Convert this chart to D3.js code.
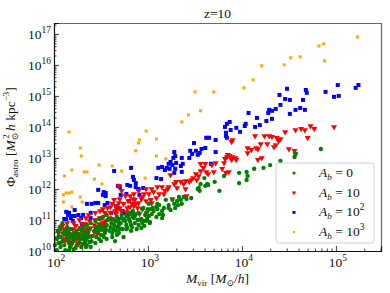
<!DOCTYPE html>
<html>
<head>
<meta charset="utf-8">
<script src="https://cdn.jsdelivr.net/npm/d3@7"></script>
<style>
  body { margin: 0; background: #fff; }
  svg { display: block; font-family: "Liberation Serif", "DejaVu Serif", serif; }
</style>
</head>
<body>
<div class="canvas"></div>
<script>
// values are [log10 Mvir, log10 Phi]
const ab0 = [
  [4.84,13.29],[4.57,13.13],[4.56,13.03],[4.41,12.90],[4.30,12.77],[4.23,12.68],[4.13,12.65],[4.05,12.55],
  [4.06,12.42],[4.05,12.29],[3.97,12.52],[3.97,12.19],[3.81,12.42],[3.71,12.23],[3.76,11.94],[3.64,12.13],
  [3.61,12.10],[3.56,12.16],[3.53,12.00],[3.55,11.94],[3.60,12.35],[3.46,11.71],[3.41,11.68],[3.38,11.74],
  [3.35,11.65],[3.33,11.74],[3.31,11.61],[3.28,11.52],[3.29,11.39],[3.32,11.48],[3.26,11.65],[3.22,11.48],
  [3.22,11.39],[3.19,11.65],[3.17,11.39],[3.15,11.29],[3.12,11.48],[3.09,11.42],[3.05,11.39],[3.03,11.35],
  [3.06,11.29],[3.10,11.35],[3.12,11.19],[3.16,11.16],[3.24,11.32],[3.04,11.19],[3.01,11.13],[3.36,11.52],
  [3.10,11.52],[3.01,11.52],[2.98,11.23],[2.94,11.35],[2.90,11.23],[2.87,11.19],[2.83,11.23],[2.80,11.19],
  [2.77,11.13],[2.72,11.06],[2.69,11.03],[2.74,11.00],[2.85,11.06],[2.78,10.74],[2.93,11.03],[3.15,11.06],
  [3.09,11.10],[3.54,12.03],[3.63,12.16],[2.84,11.29],[2.95,11.39],[2.77,10.71],[2.93,10.74],[3.02,10.90],
  [2.65,10.32],[2.44,10.26],[2.34,10.13],[2.21,10.06],[2.12,10.03],
  [2.07,10.71],[2.10,10.58],[2.07,10.45],[2.09,10.32],[2.11,10.19],[2.07,10.13],[2.16,10.03],[2.14,10.39],
  [2.16,10.26],[2.18,10.45],[2.21,10.32],[2.24,10.19],[2.27,10.32],[2.29,10.13],[2.31,10.39],[2.33,10.58],
  [2.35,10.19],[2.37,10.45],[2.40,10.32],[2.43,10.65],[2.45,10.45],[2.48,10.71],[2.50,10.52],[2.52,10.77],
  [2.54,10.58],[2.56,10.84],[2.59,10.65],[2.61,10.90],[2.63,10.71],[2.65,10.97],[2.67,10.77],[2.69,10.58],
  [2.71,10.90],[2.73,10.71],[2.76,10.97],[2.80,11.03],[2.82,10.84],[2.84,11.10],[2.86,10.90],[2.89,11.00],
  [2.90,10.84],[2.95,10.97],[2.97,11.16],[2.99,11.03],[2.05,10.48],[2.12,10.65],[2.14,10.77],[2.18,10.71],
  [2.22,10.58],[2.27,10.71],[2.31,10.77],[2.35,10.84],[2.39,10.90],[2.44,10.97],[2.48,11.03],[2.52,11.10],
  [2.56,11.16],[2.20,10.52],[2.24,10.45],[2.37,10.71],[2.46,10.77],[2.61,11.03],[2.67,11.10],[2.33,10.32],
  [2.39,10.13],[2.50,10.32],[2.56,10.39],[2.67,10.52],[2.74,10.45],[2.16,10.58],[2.29,10.52],[2.48,10.39],
  [2.69,10.84],[2.88,10.71],[2.96,10.81],[2.62,10.45],[2.82,10.65],[2.05,10.26],[2.03,10.03],[2.01,10.19],
  [2.03,10.39],[3.02,10.94],
  [2.04,10.65],[2.06,10.77],[2.09,10.90],[2.13,10.55],[2.15,10.45],[2.17,10.13],[2.19,10.26],[2.22,10.42],
  [2.23,10.10],[2.26,10.55],[2.28,10.39],[2.30,10.65],[2.32,10.23],[2.34,10.45],[2.36,10.58],[2.38,10.29],
  [2.41,10.48],[2.44,10.77],[2.47,10.61],[2.49,10.84],[2.51,10.68],[2.53,10.45],[2.55,10.71],[2.57,11.00],
  [2.60,10.77],[2.62,10.58],[2.64,10.84],[2.66,10.65],[2.68,10.97],[2.70,10.71],[2.72,11.16],[2.77,10.84],
  [2.79,11.10],[2.81,10.94],[2.83,10.77],[2.86,11.13],[2.91,11.00],[2.94,10.90],[2.98,10.97],[3.00,11.35]
];
const ab10 = [
  [2.07,10.26],[2.10,10.39],[2.10,10.55],[2.11,10.71],[2.12,10.61],[2.13,10.48],[2.14,10.90],[2.15,10.65],
  [2.15,10.32],[2.16,10.71],[2.18,10.55],[2.18,10.16],[2.20,10.71],[2.20,10.39],[2.23,10.81],[2.23,10.58],
  [2.24,10.39],[2.24,10.65],[2.26,10.45],[2.26,10.23],[2.28,10.74],[2.29,10.65],[2.30,10.23],[2.31,10.87],
  [2.31,10.48],[2.34,11.06],[2.33,10.87],[2.34,10.71],[2.34,10.32],[2.36,10.58],[2.38,10.97],[2.39,10.74],
  [2.40,10.48],[2.43,10.61],[2.44,11.23],[2.44,11.00],[2.45,10.71],[2.46,10.55],[2.48,10.87],[2.49,11.29],
  [2.49,11.06],[2.50,10.74],[2.52,11.35],[2.52,10.90],[2.55,10.97],[2.55,10.81],[2.55,10.65],[2.57,11.39],
  [2.59,11.06],[2.60,11.23],[2.62,11.52],[2.63,11.03],[2.65,11.29],[2.66,11.45],[2.66,11.19],[2.69,12.10],
  [2.69,11.55],[2.69,10.87],[2.70,11.39],[2.70,11.68],[2.72,11.94],[2.72,11.29],[2.74,11.52],[2.74,11.03],
  [2.76,11.77],[2.78,11.39],[2.79,11.61],[2.81,11.77],[2.81,11.42],[2.81,11.23],[2.84,11.68],[2.84,11.13],
  [2.85,11.84],[2.85,11.45],[2.87,11.52],[2.89,11.39],[2.90,11.94],[2.90,11.55],[2.91,11.19],[2.93,11.68],
  [2.94,11.35],[2.96,11.84],[2.98,12.00],[2.98,11.61],[3.00,11.29],[3.01,11.84],
  [2.09,10.81],[2.12,10.32],[2.17,10.45],[2.21,10.90],[2.27,11.00],[2.32,10.61],[2.37,11.16],[2.43,10.84],
  [2.51,11.06],[2.54,11.23],[2.60,11.42],[2.64,11.65],[2.67,11.32],[2.77,11.26],[2.83,11.52],[2.86,11.65],
  [2.94,11.74],[2.05,10.58],[2.18,10.29],[2.35,10.42],
  [3.03,11.65],[3.04,12.00],[3.04,11.55],[3.06,11.90],[3.09,11.71],[3.10,12.06],[3.12,11.84],[3.15,12.06],
  [3.17,11.84],[3.18,11.94],[3.21,12.00],[3.22,12.06],[3.24,12.45],[3.26,11.68],[3.28,12.16],[3.30,12.23],
  [3.31,12.03],[3.35,12.23],[3.38,12.16],[3.40,12.26],[3.40,12.00],[3.41,11.77],[3.44,12.23],[3.46,12.29],
  [3.48,12.35],[3.51,12.48],[3.52,12.29],[3.54,12.42],[3.56,12.58],[3.56,12.81],[3.59,12.68],[3.61,12.81],
  [3.62,12.55],[3.64,12.48],[3.68,12.77],[3.70,12.55],[3.72,12.84],[3.79,12.65],[3.81,12.84],[3.82,12.97],
  [3.83,12.52],[3.84,13.03],[3.85,13.10],[3.86,12.55],[3.87,13.06],[3.89,13.52],[3.89,12.94],[3.90,13.58],
  [3.90,13.03],[3.93,13.00],[3.94,12.94],
  [4.06,13.32],[4.06,13.16],[4.10,13.26],[4.14,13.71],[4.15,13.32],[4.17,13.29],[4.17,12.94],[4.20,13.45],
  [4.21,13.00],[4.24,13.71],[4.27,13.45],[4.29,13.71],[4.32,13.68],[4.34,13.35],[4.36,13.42],[4.37,13.65],
  [4.39,13.55],[4.41,13.61],[4.46,13.84],[4.50,13.29],[4.56,13.23],[4.57,13.13],[4.57,13.90],[4.63,13.94],
  [4.67,13.90],[4.70,13.65],[4.73,14.03],[4.77,13.94],[4.98,14.00]
];
const ab100 = [
  [2.11,11.03],[2.13,11.03],[2.13,11.26],[2.16,11.23],[2.19,11.13],[2.15,11.16],[2.18,11.06],[2.20,10.97],
  [2.22,11.32],[2.22,11.13],[2.26,11.16],[2.29,11.06],[2.30,10.87],[2.31,11.16],[2.35,11.52],[2.39,11.23],
  [2.39,11.06],[2.40,11.52],[2.44,11.55],[2.47,11.55],[2.47,11.97],[2.52,11.81],[2.53,11.90],[2.55,11.77],
  [2.55,11.87],[2.54,11.48],[2.54,10.90],[2.57,11.55],[2.61,11.23],[2.64,12.58],[2.66,11.45],[2.68,11.39],
  [2.68,12.10],[2.70,12.06],[2.71,11.81],[2.73,11.29],[2.74,11.23],[2.77,11.84],[2.78,12.13],[2.79,11.16],
  [2.80,11.61],[2.81,12.10],[2.82,12.68],[2.84,12.39],[2.85,12.29],[2.87,12.06],[2.87,12.19],[2.90,12.00],
  [2.91,11.81],[2.95,12.03],
  [3.09,12.35],[3.14,12.32],[3.11,12.68],[3.15,12.71],[3.18,12.61],[3.20,12.68],[3.23,12.65],[3.22,12.81],
  [3.24,12.87],[3.26,12.77],[3.28,13.19],[3.29,13.06],[3.27,13.00],[3.29,12.65],[3.28,12.52],[3.30,12.84],
  [3.35,12.74],[3.36,12.55],[3.36,13.00],[3.37,12.81],[3.44,13.00],[3.45,13.23],[3.47,13.13],[3.49,13.48],
  [3.51,13.23],[3.53,13.10],[3.55,13.16],[3.57,13.29],[3.61,13.32],[3.62,13.65],[3.65,13.65],[3.67,12.81],
  [3.72,13.58],[3.72,13.19],[3.82,14.00],[3.83,13.81],[3.83,13.71],[3.84,13.65],[3.84,14.10],[3.87,14.16],
  [3.88,13.90],[3.94,13.97],[3.98,13.84],[4.03,14.03],[4.04,14.10],[4.07,14.45],[4.14,14.00],[4.16,14.29],
  [4.19,14.06],[4.26,14.19],[4.28,14.45],[4.29,14.55],[4.32,14.52],[4.32,14.26],[4.36,14.58],[4.40,15.03],
  [4.41,14.71],[4.46,14.90],[4.48,15.23],[4.51,14.42],[4.51,14.87],[4.57,14.55],[4.62,14.61],[4.65,14.87],
  [4.67,14.55],[4.68,15.19],[4.69,15.10],[4.89,15.13],[4.98,14.97],[5.02,15.35],[5.03,15.00],[5.21,15.26],
  [5.24,15.35]
];
const ab1000 = [
  [2.10,11.81],[2.10,11.58],[2.13,11.87],[2.16,11.87],[2.19,11.90],[2.19,11.42],[2.28,11.74],[2.30,11.58],
  [2.16,13.84],[2.28,13.32],[2.29,13.06],[2.19,12.61],[2.11,12.42],[2.32,12.55],[2.35,12.55],[2.43,12.32],
  [2.48,12.77],[2.62,12.74],[2.72,12.58],[2.51,12.16],[2.98,13.87],[2.91,13.58],[2.90,13.48],[2.87,13.23],
  [3.09,13.61],[3.09,13.06],[3.19,12.97],[2.97,12.35],[3.43,14.39],[3.56,14.52],[3.36,14.16],[3.50,15.13],
  [3.70,15.13],[4.02,15.26],[4.12,15.52],[4.21,15.97],[4.45,16.00],[4.52,16.23],[4.62,16.26],[4.82,16.61],
  [4.87,16.68],[4.88,16.13],[5.23,16.90]
];

const legendLabels = ["0", "10", "10^2", "10^3"];
const xTickExps = [2, 3, 4, 5];
const yTickExps = [10, 11, 12, 13, 14, 15, 16, 17];

const width = 390, height = 293;
const margin = { top: 23, right: 9, bottom: 42, left: 54 };

const svg = d3.select(".canvas").append("svg").attr("width", width).attr("height", height);

const x = d3.scaleLog().domain([1e2, Math.pow(10, 5.48)]).range([margin.left, width - margin.right]);
const y = d3.scaleLog().domain([1e10, Math.pow(10, 17.35)]).range([height - margin.bottom, margin.top]);

// minor ticks 2..9 per decade
const minors = (lo, hi) => {
  const out = [];
  for (let e = lo; e < hi; e++) for (let k = 2; k <= 9; k++) out.push(k * Math.pow(10, e));
  return out;
};

const series = [
  { name: "ab1000", data: ab1000, colour: "#ffa500", shape: d3.symbolSquare, size: 9, rot: 0 },
  { name: "ab100", data: ab100, colour: "#0000ff", shape: d3.symbolSquare, size: 16, rot: 0 },
  { name: "ab10", data: ab10, colour: "#ff0000", shape: d3.symbolTriangle, size: 16, rot: 180 },
  { name: "ab0", data: ab0, colour: "#008000", shape: d3.symbolCircle, size: 15, rot: 0 }
];

const plot = svg.append("g");
series.forEach((s) => {
  const sym = d3.symbol().type(s.shape).size(s.size);
  plot.append("g")
    .selectAll("path")
    .data(s.data)
    .enter()
    .append("path")
    .attr("d", sym)
    .attr("fill", s.colour)
    .attr("transform", (d) => `translate(${x(Math.pow(10, d[0]))},${y(Math.pow(10, d[1]))}) rotate(${s.rot})`);
});

// frame
const x0 = margin.left, x1 = width - margin.right, y0 = margin.top, y1 = height - margin.bottom;
svg.append("path").attr("d", `M${x0},${y0 + 0.5}H${x1 + 0.5}V${y1}`).attr("fill", "none").attr("stroke", "#666").attr("stroke-width", 1.2);

// axes, ticks inward
const xAxis = svg.append("g").attr("transform", `translate(0,${y1})`);
xAxis.call(d3.axisBottom(x).tickValues(xTickExps.map((e) => Math.pow(10, e))).tickSize(-5).tickFormat(""));
const xMinor = svg.append("g").attr("transform", `translate(0,${y1})`);
xMinor.call(d3.axisBottom(x).tickValues(minors(2, 5).concat([2e5, 3e5])).tickSize(-2.5).tickFormat(""));
xMinor.select(".domain").remove();

const yAxis = svg.append("g").attr("transform", `translate(${x0},0)`);
yAxis.call(d3.axisLeft(y).tickValues(yTickExps.map((e) => Math.pow(10, e))).tickSize(-5).tickFormat(""));
const yMinor = svg.append("g").attr("transform", `translate(${x0},0)`);
yMinor.call(d3.axisLeft(y).tickValues(minors(10, 17).concat([2e17])).tickSize(-2.5).tickFormat(""));
yMinor.select(".domain").remove();

svg.selectAll(".domain").attr("stroke", "#111").attr("stroke-width", 1.2);
svg.selectAll(".tick line").attr("stroke", "#111").attr("stroke-width", 0.8);

// tick labels 10^n
const pow = (g, exp) => {
  g.append("tspan").text("10");
  g.append("tspan").attr("dy", -6).attr("font-size", 9.5).text(exp);
};
xTickExps.forEach((e) => {
  const t = svg.append("text").attr("x", x(Math.pow(10, e)) + 2).attr("y", y1 + 16)
    .attr("text-anchor", "middle").attr("font-size", 13.5).attr("fill", "#111");
  pow(t, e);
});
yTickExps.forEach((e) => {
  const t = svg.append("text").attr("x", x0 - 3).attr("y", y(Math.pow(10, e)) + 5)
    .attr("text-anchor", "end").attr("font-size", 13.5).attr("fill", "#111");
  pow(t, e);
});

// title
svg.append("text").attr("x", (x0 + x1) / 2).attr("y", 18).attr("text-anchor", "middle")
  .attr("font-size", 13.5).attr("fill", "#111").text("z=10");

// x label
const xl = svg.append("text").attr("x", (x0 + x1) / 2).attr("y", 283).attr("text-anchor", "middle")
  .attr("font-size", 13.5).attr("fill", "#111");
xl.append("tspan").attr("font-style", "italic").text("M");
xl.append("tspan").attr("font-size", 9).attr("dy", 3).text("vir");
xl.append("tspan").attr("dy", -3).text(" [");
xl.append("tspan").attr("font-style", "italic").text("M");
xl.append("tspan").attr("font-size", 9).attr("dy", 3).text("⊙");
xl.append("tspan").attr("dy", -3).text("/");
xl.append("tspan").attr("font-style", "italic").text("h");
xl.append("tspan").text("]");

// y label
const yl = svg.append("text").attr("transform", `translate(15,${(y0 + y1) / 2}) rotate(-90)`)
  .attr("text-anchor", "middle").attr("font-size", 13.5).attr("fill", "#111");
yl.append("tspan").text("Φ");
yl.append("tspan").attr("font-size", 9).attr("dy", 3).text("astro");
yl.append("tspan").attr("dy", -3).text(" [");
yl.append("tspan").attr("font-style", "italic").text("M");
yl.append("tspan").attr("font-size", 9).attr("dy", 3).text("⊙");
yl.append("tspan").attr("font-size", 9).attr("dx", -6).attr("dy", -9).text("2");
yl.append("tspan").attr("dy", 6).attr("font-style", "italic").text(" h");
yl.append("tspan").text(" kpc");
yl.append("tspan").attr("font-size", 9).attr("dy", -6).text("−3");
yl.append("tspan").attr("dy", 6).text("]");

// legend
const legend = svg.append("g");
legend.append("rect").attr("x", 276).attr("y", 163).attr("width", 98).attr("height", 80).attr("rx", 3)
  .attr("fill", "#fff").attr("fill-opacity", 0.85).attr("stroke", "#d0d0d0");
const legendSeries = series.slice().reverse();
legendSeries.forEach((s, i) => {
  const ly = 173 + i * 19.7;
  legend.append("path")
    .attr("d", d3.symbol().type(s.shape).size(s.size * 0.55))
    .attr("fill", s.colour)
    .attr("transform", `translate(294,${ly}) rotate(${s.rot})`);
  const t = legend.append("text").attr("x", 319).attr("y", ly + 4).attr("font-size", 13.5).attr("fill", "#111");
  t.append("tspan").attr("font-style", "italic").text("A");
  t.append("tspan").attr("font-style", "italic").attr("font-size", 9).attr("dy", 3).text("b");
  t.append("tspan").attr("dy", -3).text(" = ");
  const parts = legendLabels[i].split("^");
  t.append("tspan").text(parts[0]);
  if (parts[1]) t.append("tspan").attr("font-size", 9.5).attr("dy", -6).text(parts[1]);
});
</script>
</body>
</html>
